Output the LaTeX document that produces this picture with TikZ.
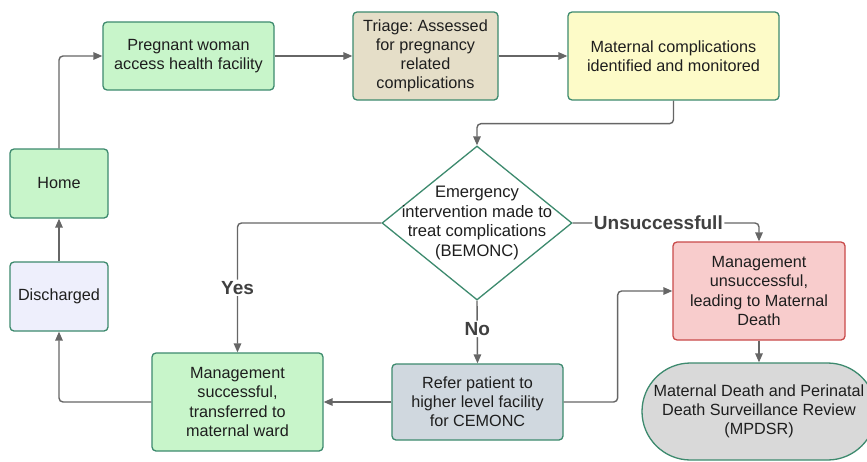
\documentclass[tikz,border=0pt]{standalone}
\usepackage{fontspec}
\setmainfont{Liberation Sans}
\frenchspacing
\usetikzlibrary{arrows.meta,shapes.geometric,shapes.misc}
\definecolor{bordg}{HTML}{3D8A6E}
\definecolor{greenf}{HTML}{C8F5CA}
\definecolor{tanf}{HTML}{E5DEC8}
\definecolor{yelf}{HTML}{FDFBC8}
\definecolor{lavf}{HTML}{EEEFFC}
\definecolor{grayblue}{HTML}{D0D8DF}
\definecolor{pinkf}{HTML}{F8CCCC}
\definecolor{redb}{HTML}{C94A4A}
\definecolor{grayf}{HTML}{D9D9D9}
\definecolor{arrc}{HTML}{666666}
\definecolor{txt}{HTML}{1E1E1E}
\tikzset{
  box/.style={draw=bordg, line width=1.3pt, rounded corners=4pt, align=center,
    text=txt, inner sep=2pt, font=\fontsize{16.2}{19.2}\selectfont},
  arr/.style={draw=arrc, line width=1.4pt, rounded corners=4pt,
    -{Triangle[length=9pt,width=7.5pt]}},
  lbl/.style={fill=white, inner sep=1.5pt, text=txt!85!white, font=\bfseries\fontsize{19}{20}\selectfont}
}
\begin{document}
\begin{tikzpicture}[x=1pt,y=-1pt]
\clip (0,0) rectangle (867,461);
\fill[white] (0,0) rectangle (867,461);
\node[box, fill=greenf, minimum width=171pt, minimum height=68pt] (preg) at (188.5,56) {Pregnant woman\\access health facility};
\node[box, fill=tanf, minimum width=145pt, minimum height=88pt] (tri) at (425.5,56) {Triage: Assessed\\for pregnancy\\related\\complications};
\node[box, fill=yelf, minimum width=211pt, minimum height=88pt] (mat) at (673.5,56) {Maternal complications\\identified and monitored};
\node[diamond, draw=bordg, line width=1.3pt, fill=white, minimum width=190pt, minimum height=154pt, inner sep=0pt] (dec) at (477,223) {};
\node[align=center, text=txt, font=\fontsize{16.6}{19.6}\selectfont] (dectxt) at (dec.center) {Emergency\\intervention made to\\treat complications\\(BEMONC)};
\node[box, fill=greenf, minimum width=98pt, minimum height=69pt] (home) at (59,183.5) {Home};
\node[box, fill=lavf, minimum width=98pt, minimum height=69pt] (dis) at (59,296.5) {Discharged};
\node[box, fill=greenf, minimum width=171pt, minimum height=98pt] (msucc) at (237.5,402) {Management\\successful,\\transferred to\\maternal ward};
\node[box, fill=grayblue, minimum width=171pt, minimum height=76pt] (ref) at (477.5,402) {Refer patient to\\higher level facility\\for CEMONC};
\node[box, fill=pinkf, draw=redb, minimum width=172pt, minimum height=98pt] (muns) at (759,291) {Management\\unsuccessful,\\leading to Maternal\\Death};
\node[box, rounded rectangle, rounded corners=0pt, fill=grayf, minimum width=238pt, minimum height=97pt] (mpdsr) at (759,411.5) {Maternal Death and Perinatal\\Death Surveillance Review\\(MPDSR)};
\draw[arr] (home.north) |- (preg.west);
\draw[arr] (preg.east) -- (tri.west);
\draw[arr] (tri.east) -- (mat.west);
\draw[arr] (mat.south) -- ++(0,23) -| (dec.north);
\draw[arr] (dec.west) -| node[lbl, pos=0.75] {Yes} (msucc.north);
\draw[arr] (dec.south) -- node[lbl, pos=0.45] {No} (ref.north);
\draw[arr] (dec.east) -| node[lbl, pos=0.23] {Unsuccessfull} (muns.north);
\draw[arr] (ref.west) -- (msucc.east);
\draw[arr] (msucc.west) -| (dis.south);
\draw[arr] (dis.north) -- (home.south);
\draw[arr] (ref.east) -- ++(54,0) |- (muns.west);
\draw[arr] (muns.south) -- (mpdsr.north);
\end{tikzpicture}
\end{document}
